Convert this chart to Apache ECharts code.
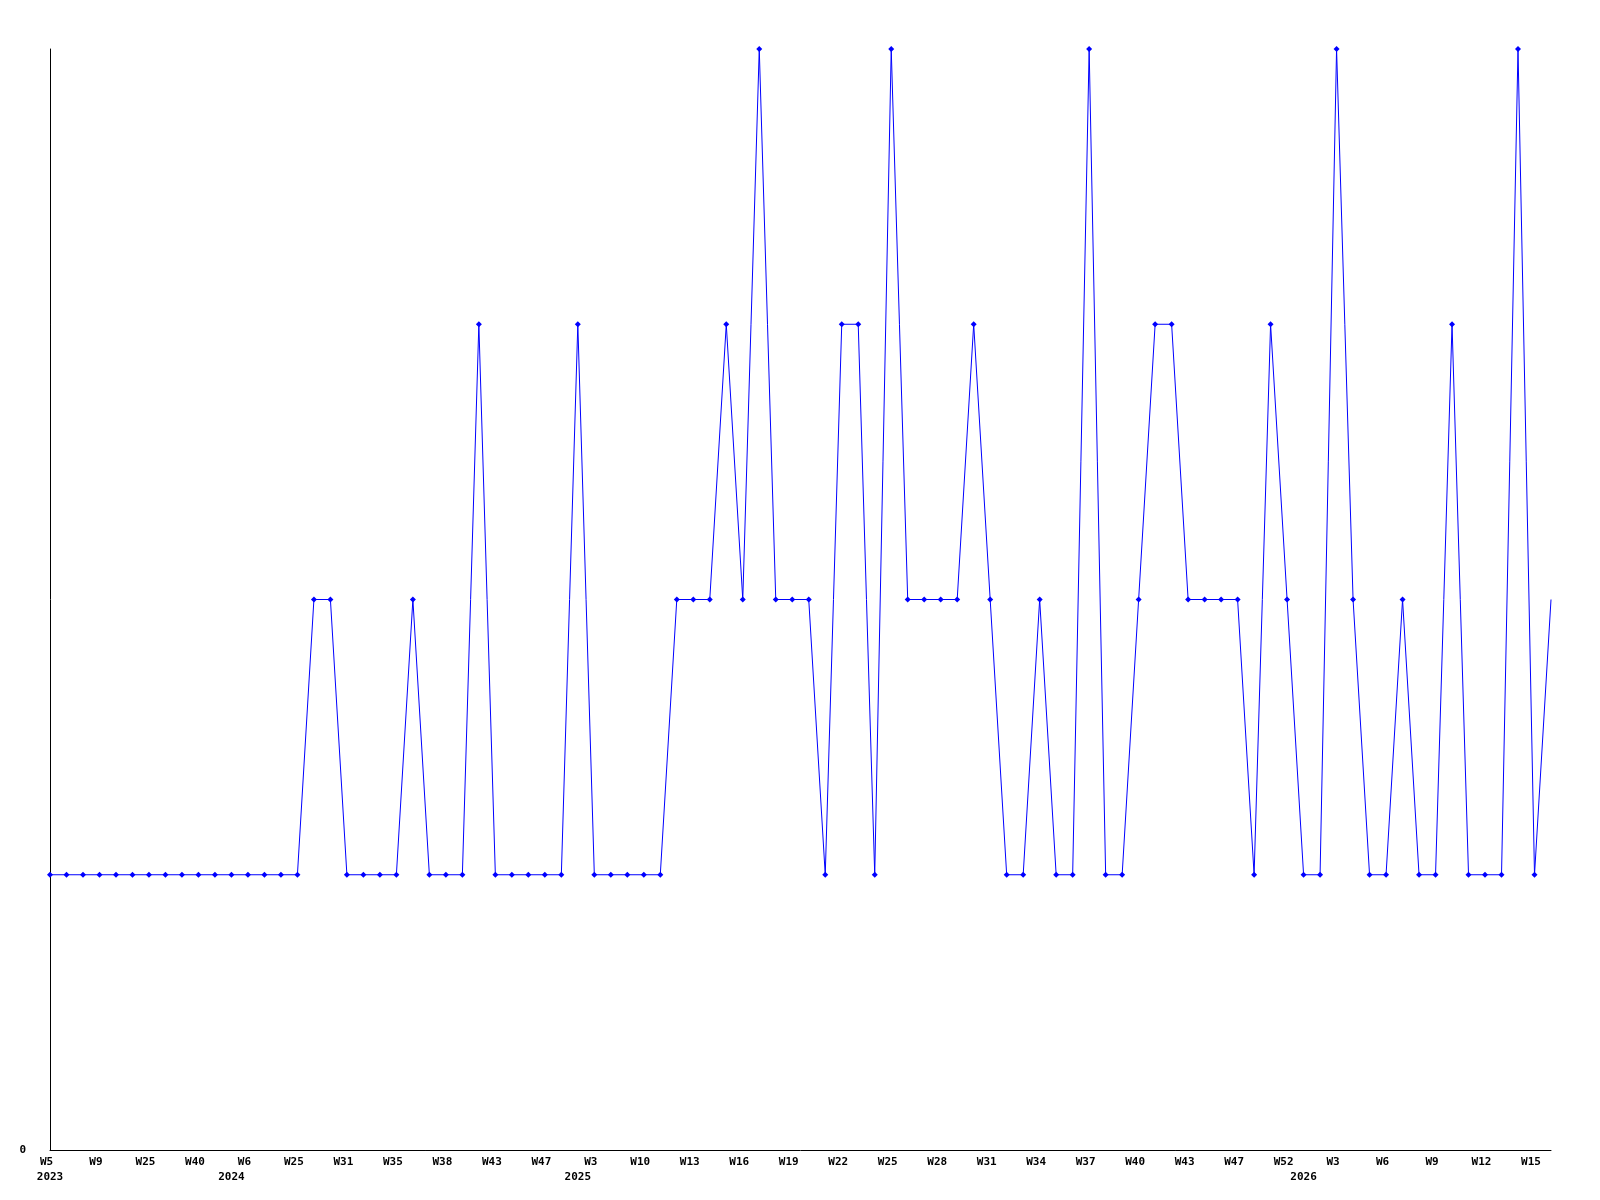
<!DOCTYPE html>
<html>
<head>
<meta charset="utf-8">
<script src="https://cdn.jsdelivr.net/npm/echarts@6/dist/echarts.min.js"></script>
<style>
  html, body { margin: 0; padding: 0; background: #fff; }
  #chart { width: 1600px; height: 1200px; }
</style>
</head>
<body>
<div id="chart"></div>
<script>
  // weekly values, one per point
  var values = [
    1, 1, 1, 1, 1, 1, 1, 1, 1, 1, 1, 1, 1, 1, 1, 1,
    2, 2, 1, 1, 1, 1, 2, 1, 1, 1, 3, 1, 1, 1, 1, 1,
    3, 1, 1, 1, 1, 1, 2, 2, 2, 3, 2, 4, 2, 2, 2, 1,
    3, 3, 1, 4, 2, 2, 2, 2, 3, 2, 1, 1, 2, 1, 1, 4,
    1, 1, 2, 3, 3, 2, 2, 2, 2, 1, 3, 2, 1, 1, 4, 2,
    1, 1, 2, 1, 1, 3, 1, 1, 1, 4, 1, 2
  ];
  // labels shown every 3rd point
  var weekLabels = ['W5', 'W9', 'W25', 'W40', 'W6', 'W25', 'W31', 'W35', 'W38', 'W43', 'W47',
    'W3', 'W10', 'W13', 'W16', 'W19', 'W22', 'W25', 'W28', 'W31', 'W34', 'W37', 'W40',
    'W43', 'W47', 'W52', 'W3', 'W6', 'W9', 'W12', 'W15'];
  // year labels and the point where each year starts
  var yearNames = ['2023', '2024', '2025', '2026'];
  var yearIndex = [0, 11, 32, 76];

  var categories = values.map(function (v, i) { return i; });

  var chart = echarts.init(document.getElementById('chart'));
  var font = 'DejaVu Sans Mono';

  var option = {
    animation: false,
    grid: {
      left: 50,
      right: 49,
      top: 49,
      bottom: 50,
      containLabel: false
    },
    xAxis: [{
      type: 'category',
      data: categories,
      boundaryGap: false,
      axisLine: { show: true, lineStyle: { color: '#000', width: 1 } },
      axisTick: { show: false },
      splitLine: { show: false },
      axisLabel: {
        interval: 2,
        margin: 7,
        padding: [0, 7, 0, 0],
        color: '#000',
        fontFamily: font,
        fontWeight: 'bold',
        fontSize: 11,
        formatter: function (v, i) {
          return i % 3 === 0 ? weekLabels[i / 3] : '';
        }
      }
    }, {
      type: 'category',
      data: categories,
      boundaryGap: false,
      position: 'bottom',
      offset: 15,
      axisLine: { show: false },
      axisTick: { show: false },
      splitLine: { show: false },
      axisLabel: {
        interval: 0,
        margin: 7,
        color: '#000',
        fontFamily: font,
        fontWeight: 'bold',
        fontSize: 11,
        formatter: function (v, i) {
          var k = yearIndex.indexOf(i);
          return k >= 0 ? yearNames[k] : '';
        }
      }
    }],
    yAxis: {
      type: 'value',
      min: 0,
      max: 4,
      interval: 4,
      axisLine: { show: true, lineStyle: { color: '#000', width: 1 } },
      axisTick: { show: false },
      splitLine: { show: false },
      axisLabel: {
        margin: 24,
        color: '#000',
        fontFamily: font,
        fontWeight: 'bold',
        fontSize: 11,
        formatter: function (v) { return v === 0 ? '0' : ''; }
      }
    },
    series: [{
      type: 'line',
      xAxisIndex: 0,
      data: values.map(function (v, i) {
        // last point has no marker in the original
        return i === values.length - 1 ? { value: v, symbol: 'none' } : v;
      }),
      symbol: 'diamond',
      symbolSize: 6,
      showAllSymbol: true,
      lineStyle: { color: '#0000ff', width: 1 },
      itemStyle: { color: '#0000ff' }
    }]
  };

  chart.setOption(option);
</script>
</body>
</html>
